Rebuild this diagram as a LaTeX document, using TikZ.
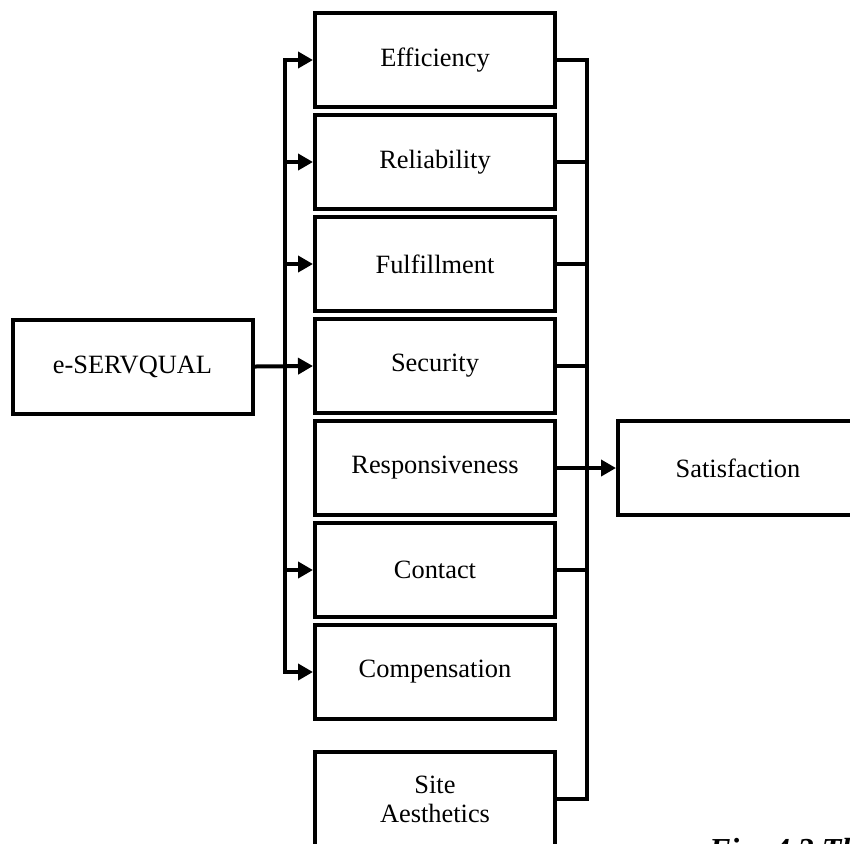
\documentclass[tikz,border=0pt]{standalone}
\usepackage{fontspec}
\setmainfont{Liberation Serif}
\usetikzlibrary{arrows.meta}

\begin{document}
\begin{tikzpicture}[x=0.5pt, y=-0.5pt,
      dimbox/.style={rectangle, draw=black, line width=2pt, minimum width=120pt,
                     minimum height=47pt, inner sep=0pt, align=center,
                     font=\fontsize{13.2}{14.5}\selectfont},
      link/.style={draw=black, line width=2pt},
      arr/.style={link, -{Triangle[length=7.5pt, width=8pt]}}
    ]
    \clip (0,0) rectangle (850,843);

    \node[dimbox] (eserv) at (132.5,366.5) {e-SERVQUAL};

    \node[dimbox] (eff)  at (435, 60) {Efficiency};
    \node[dimbox] (rel)  at (435,162) {Reliability};
    \node[dimbox] (ful)  at (435,264) {Fulfillment};
    \node[dimbox] (sec)  at (435,366) {Security};
    \node[dimbox] (resp) at (435,468) {Responsiveness};
    \node[dimbox] (con)  at (435,570) {Contact};
    \node[dimbox] (comp) at (435,672) {Compensation};
    \node[dimbox] (site) at (435,799) {Site\\Aesthetics};

    \node[dimbox] (sat)  at (738,468) {Satisfaction};

    \node[anchor=base west, font=\fontsize{16}{18}\selectfont\bfseries\itshape]
          (cap) at (702,860) {Fig. 4.3 The};

    % spines
    \coordinate (ltop) at (285, 60);
    \coordinate (lbot) at (285,672);
    \coordinate (rtop) at (587, 60);
    \coordinate (rbot) at (587,799);
    \draw[link, line cap=rect] (ltop) -- (lbot);
    \draw[link, line cap=rect] (rtop) -- (rbot);

    \draw[arr] (eserv.east) -- (sec.west);
    \foreach \b in {eff, rel, ful, con, comp}{
      \draw[arr] (\b.west -| ltop) -- (\b.west);
    }
    \foreach \b in {eff, rel, ful, sec, con, site}{
      \draw[link] (\b.east) -- (\b.east -| rtop);
    }
    \draw[arr] (resp.east) -- (sat.west);
  \end{tikzpicture}
\end{document}
